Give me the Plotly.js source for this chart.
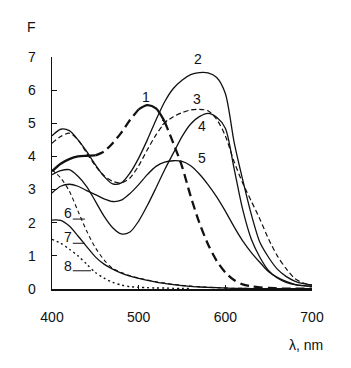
<!DOCTYPE html>
<html>
<head>
<meta charset="utf-8">
<script src="https://cdn.plot.ly/plotly-3.0.1.min.js"></script>
<style>html,body{margin:0;padding:0;background:#fff;}#chart{width:351px;height:368px;}</style>
</head>
<body>
<div id="chart"></div>
<script>
// wavelength grid, nm
const wavelength = [400,410,420,430,440,450,460,470,480,490,500,510,520,530,540,550,560,570,580,590,600,610,620,630,640,650,660,670,680,690,700];

const curve1 = [3.55,3.78,3.92,4.0,4.02,4.03,4.15,4.4,4.72,5.1,5.42,5.55,5.45,5.05,4.4,3.7,2.8,2.0,1.35,0.85,0.5,0.27,0.14,0.08,0.05,0.03,0.02,0.01,0.01,0.01,0.01];
const curve2 = [4.62,4.82,4.78,4.5,4.15,3.75,3.4,3.17,3.2,3.5,3.95,4.5,5.1,5.65,6.05,6.3,6.47,6.53,6.52,6.38,5.9,4.45,3.3,2.25,1.4,0.95,0.6,0.38,0.24,0.16,0.12];
const curve3 = [4.4,4.6,4.7,4.5,4.1,3.72,3.42,3.25,3.2,3.35,3.72,4.2,4.65,5.0,5.2,5.32,5.4,5.42,5.38,5.12,4.62,3.85,3.2,2.65,2.1,1.5,1.0,0.62,0.32,0.18,0.12];
const curve4 = [3.45,3.57,3.6,3.4,3.09,2.65,2.2,1.85,1.66,1.72,2.05,2.52,3.05,3.6,4.1,4.6,4.98,5.2,5.3,5.18,4.85,3.65,2.4,1.5,0.95,0.55,0.33,0.2,0.13,0.1,0.08];
const curve5 = [2.9,3.1,3.16,3.1,2.97,2.85,2.72,2.64,2.68,2.88,3.15,3.45,3.7,3.83,3.87,3.85,3.72,3.47,3.15,2.78,2.35,1.88,1.45,1.1,0.8,0.52,0.35,0.23,0.14,0.1,0.08];
const curve6 = [3.6,3.35,2.95,2.35,1.75,1.25,0.88,0.62,0.5,0.4,0.33,0.27,0.22,0.18,0.14,0.11,0.09,0.07,0.05,0.04,0.03,0.02,0.02,0.01,0.01,0.01,0.01,0.01,0.01,0.01,0.01];
const curve7 = [2.08,2.07,1.9,1.6,1.28,0.97,0.75,0.6,0.48,0.39,0.32,0.26,0.21,0.17,0.13,0.1,0.08,0.06,0.05,0.04,0.03,0.02,0.02,0.01,0.01,0.01,0.01,0.01,0.01,0.01,0.01];
const curve8 = [1.5,1.38,1.2,1.0,0.75,0.5,0.33,0.2,0.12,0.07,0.05,0.04,0.03,0.03,0.02,0.02,0.02];

const markX = [530];
const markY = [5.02];

const xTicks = [400,500,600,700];
const yTicks = [0,1,2,3,4,5,6,7];

const curveLabels = ["1","2","3","4","5","6","7","8"];

const FONT = "Liberation Sans, Arial, sans-serif";
const INK = "#111111";

function seg(xs, ys, a, b) { return {x: xs.slice(a, b + 1), y: ys.slice(a, b + 1)}; }
function line(d, width, dash) {
  return {x: d.x, y: d.y, type: "scatter", mode: "lines",
    line: {color: INK, width: width, dash: dash, shape: "spline", smoothing: 0.8},
    hoverinfo: "skip", showlegend: false};
}
const full = (ys) => ({x: wavelength.slice(0, ys.length), y: ys});

const traces = [
  line(seg(wavelength, curve1, 0, 5), 2.3, "solid"),
  line(seg(wavelength, curve1, 5, 10), 2.3, "9px,5px"),
  line(seg(wavelength, curve1, 10, 13), 2.3, "solid"),
  line(seg(wavelength, curve1, 13, 30), 2.3, "9px,5px"),
  line(full(curve2), 1.3, "solid"),
  line(full(curve3), 1.2, "5px,3px"),
  line(full(curve4), 1.3, "solid"),
  line(full(curve5), 1.3, "solid"),
  line(full(curve6), 1.1, "4px,3px"),
  line(full(curve7), 1.3, "solid"),
  line(full(curve8), 1.4, "2px,3px"),
  {x: markX, y: markY, type: "scatter", mode: "markers",
   marker: {symbol: "x-thin-open", size: 5, color: INK, line: {color: INK, width: 1}},
   hoverinfo: "skip", showlegend: false}
];

const labelPos = [[509,5.8],[568,6.95],[567,5.72],[573,4.92],[573,3.95],[418,2.3],[418,1.57],[418,0.68]];
const annotations = curveLabels.map((t, i) => ({
  x: labelPos[i][0], y: labelPos[i][1], xref: "x", yref: "y", text: t, showarrow: false,
  xanchor: "center", yanchor: "middle",
  font: {family: FONT, size: 14, color: INK}
}));
annotations.push({xref: "x domain", yref: "y domain", x: -0.077, y: 1.13, text: "F",
  xanchor: "center", yanchor: "middle", showarrow: false,
  font: {family: FONT, size: 14, color: INK}});
annotations.push({xref: "x domain", yref: "y domain", x: 0.975, y: -0.24, text: "λ, nm",
  xanchor: "center", yanchor: "middle", showarrow: false,
  font: {family: FONT, size: 14, color: INK}});

const leaders = [[424,438,2.11],[424,438,1.38],[424,445,0.55]];
const shapes = leaders.map(l => ({type: "line", xref: "x", yref: "y", x0: l[0], x1: l[1], y0: l[2], y1: l[2],
  line: {color: INK, width: 1}}));

const layout = {
  width: 351, height: 368,
  margin: {l: 52, r: 39, t: 57, b: 79, pad: 0},
  paper_bgcolor: "#fff", plot_bgcolor: "#fff",
  showlegend: false,
  font: {family: FONT, color: INK},
  xaxis: {range: [400, 700], tickvals: xTicks, ticktext: xTicks.map(String),
    ticks: "inside", ticklen: 4, tickcolor: INK, tickwidth: 1,
    showline: true, linecolor: INK, linewidth: 2, showgrid: false, zeroline: false,
    ticklabelstandoff: 14, tickfont: {family: FONT, size: 14, color: INK}},
  yaxis: {range: [0, 7], tickvals: yTicks, ticktext: yTicks.map(String),
    ticks: "inside", ticklen: 5, tickcolor: INK, tickwidth: 1,
    showline: true, linecolor: INK, linewidth: 1.5, showgrid: false, zeroline: false,
    ticklabelstandoff: 12, tickfont: {family: FONT, size: 14, color: INK}},
  annotations: annotations,
  shapes: shapes
};

Plotly.newPlot("chart", traces, layout, {staticPlot: true, displayModeBar: false});
</script>
</body>
</html>
